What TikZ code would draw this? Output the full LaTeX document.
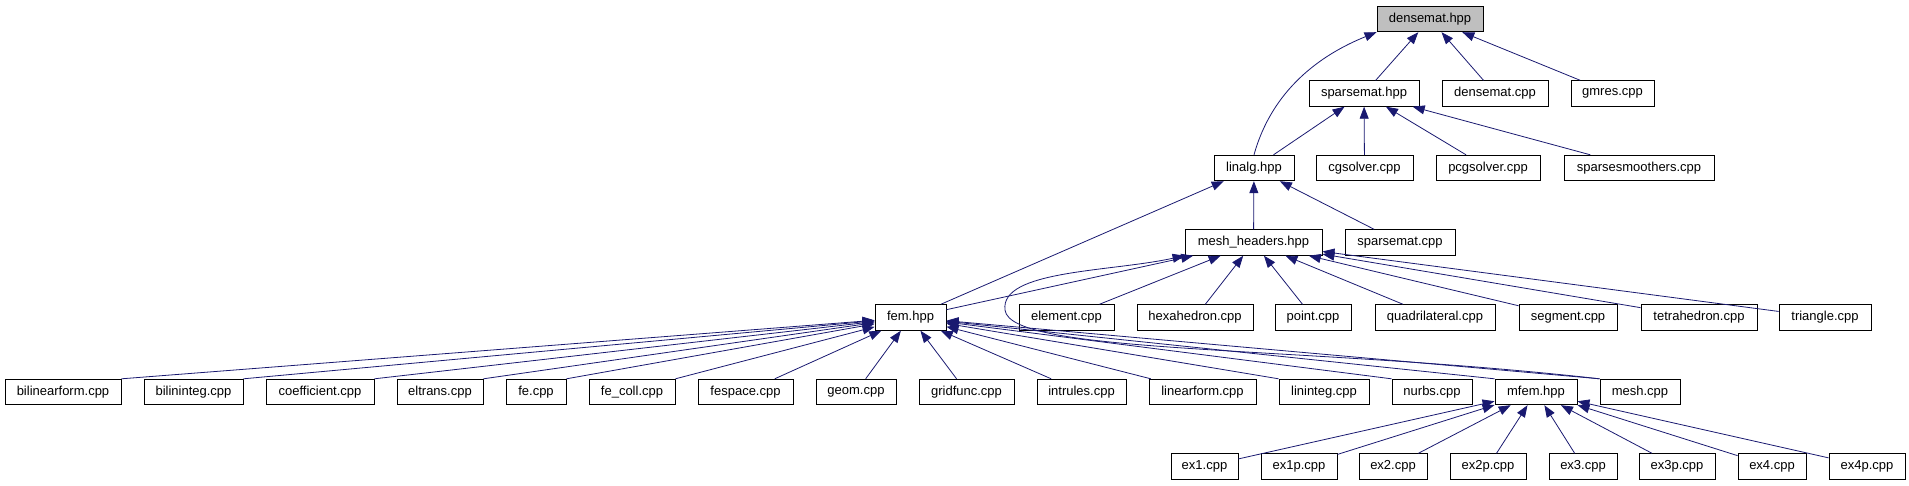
\documentclass[tikz,border=0pt]{standalone}
\usepackage{fontspec}
\newfontfamily\dgfont{Liberation Sans}
\usepackage{tikz}
\usetikzlibrary{arrows.meta}
\definecolor{dgnavy}{HTML}{191970}
\definecolor{dggray}{HTML}{BFBFBF}
\tikzset{
  dgfile/.style={draw=black, fill=white, line width=0.9pt, inner sep=0pt,
                 minimum height=25.5pt, font=\dgfont\fontsize{13}{15}\selectfont},
  dgroot/.style={dgfile, fill=dggray},
  dgedge/.style={-{Triangle[length=12pt,width=9pt]}, draw=dgnavy, line width=0.8pt},
}
\begin{document}
\begin{tikzpicture}[x=1pt,y=-1pt]
  \useasboundingbox (0,0) rectangle (1909,485);
  % header rows
  \node[dgroot,minimum width=106pt] (densemat) at (1430,19) {densemat.hpp};
  \foreach \n/\x/\w/\t in {sparsemat/1364/110/sparsemat.hpp,
      densematcpp/1495/106/densemat.cpp, gmres/1612.5/83/gmres.cpp}
    {\node[dgfile,minimum width=\w pt] (\n) at (\x,93.5) {\t};}
  \foreach \n/\x/\w/\t in {linalg/1254/80/linalg.hpp, cgsolver/1364.5/97/cgsolver.cpp,
      pcgsolver/1488/104/pcgsolver.cpp, smoothers/1639/150/sparsesmoothers.cpp}
    {\node[dgfile,minimum width=\w pt] (\n) at (\x,168) {\t};}
  \node[dgfile,minimum width=137pt] (meshheaders) at (1253.5,242.5) {mesh\_headers.hpp};
  \node[dgfile,minimum width=110pt] (sparsematcpp) at (1400,242.5) {sparsemat.cpp};
  \foreach \n/\x/\w/\t in {fem/910.5/71/fem.hpp, element/1066.5/95/element.cpp,
      hexahedron/1195/116/hexahedron.cpp, point/1313/76/point.cpp,
      quadrilateral/1435/120/quadrilateral.cpp, segment/1568/98/segment.cpp,
      tetrahedron/1699/116/tetrahedron.cpp, triangle/1825/92/triangle.cpp}
    {\node[dgfile,minimum width=\w pt] (\n) at (\x,317.5) {\t};}
  % sources using fem.hpp
  \foreach \n/\x/\w/\t in {bilinearform/63/116/bilinearform.cpp,
      bilininteg/193.5/99/bilininteg.cpp, coefficient/320/108/coefficient.cpp,
      eltrans/440/86/eltrans.cpp, fe/536/60/fe.cpp, fecoll/632/86/fe\_coll.cpp,
      fespace/745.5/95/fespace.cpp, geom/856/80/geom.cpp,
      gridfunc/966.5/95/gridfunc.cpp, intrules/1081.5/89/intrules.cpp,
      linearform/1202.5/107/linearform.cpp, lininteg/1324/90/lininteg.cpp,
      nurbs/1432/80/nurbs.cpp, mfem/1536/82/mfem.hpp, mesh/1640/80/mesh.cpp}
    {\node[dgfile,minimum width=\w pt] (\n) at (\x,392) {\t};}
  \foreach \n/\x/\w in {ex1/1204.5/67, ex1p/1299/76, ex2/1393/68, ex2p/1488/76,
      ex3/1583/68, ex3p/1677/76, ex4/1772/68, ex4p/1867/76}
    {\node[dgfile,minimum width=\w pt] (\n) at (\x,466.5) {\n.cpp};}

  % include edges
  \foreach \s in {sparsemat,densematcpp,gmres}
    {\draw[dgedge] (\s) -- (densemat);}
  \draw[dgedge] (linalg.north) .. controls (1272,90) and (1320,55) .. (densemat.south west);
  \foreach \s in {linalg,cgsolver,pcgsolver,smoothers}
    {\draw[dgedge] (\s) -- (sparsemat);}
  \foreach \s in {fem,meshheaders,sparsematcpp}
    {\draw[dgedge] (\s) -- (linalg);}
  \foreach \s in {fem,element,hexahedron,point,quadrilateral,segment,tetrahedron,triangle}
    {\draw[dgedge] (\s) -- (meshheaders);}
  \draw[dgedge] (mesh.north west) .. controls (1300,345) and (1010,355) .. (1005,310)
    .. controls (1000,270) and (1110,272) .. (meshheaders.south west);
  \foreach \s in {bilinearform,bilininteg,coefficient,eltrans,fe,fecoll}
    {\draw[dgedge] (\s.north east) -- (fem);}
  \foreach \s in {fespace,geom,gridfunc,intrules,linearform}
    {\draw[dgedge] (\s) -- (fem);}
  \foreach \s in {lininteg,nurbs,mfem,mesh}
    {\draw[dgedge] (\s.north west) -- (fem);}
  \foreach \s in {ex1,ex1p,ex2,ex2p,ex3,ex3p,ex4,ex4p}
    {\draw[dgedge] (\s) -- (mfem);}
\end{tikzpicture}
\end{document}
